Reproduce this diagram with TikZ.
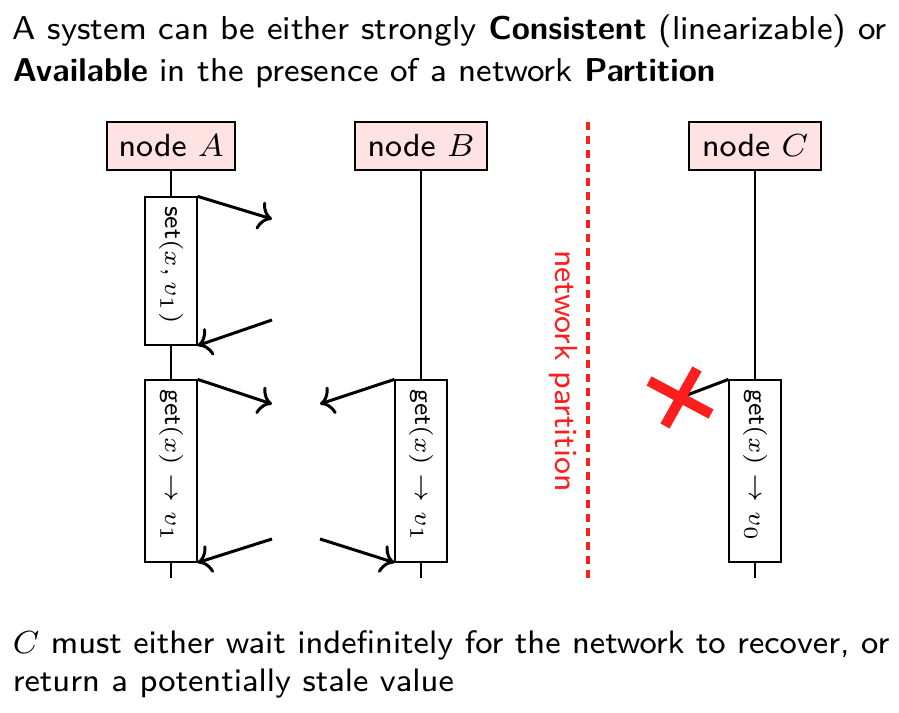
\documentclass[tikz,border=0pt]{standalone}
\usetikzlibrary{arrows.meta}
\definecolor{partred}{RGB}{255,30,30}
\definecolor{nodepink}{RGB}{255,226,226}
\begin{document}
\begin{tikzpicture}[x=0.25pt,y=-0.25pt,
  titletext/.style={anchor=base west,inner sep=0pt,font=\fontsize{8.25}{10}\selectfont\sffamily},
  bottomtext/.style={anchor=base west,inner sep=0pt,font=\fontsize{8.13}{10}\selectfont\sffamily},
  procbox/.style={draw,fill=nodepink,minimum height=12pt,inner sep=0pt,line width=0.3pt,font=\fontsize{8}{10}\selectfont\sffamily},
  opbox/.style={draw,fill=white,minimum width=13pt,inner sep=0pt,line width=0.3pt},
  oplabel/.style={rotate=-90,inner sep=0pt,font=\fontsize{6.5}{8}\selectfont\sffamily},
  lifeline/.style={line width=0.3pt},
  msg/.style={line width=0.75pt,-{To[length=3.3pt,width=7.2pt]}},
  crossline/.style={partred,line width=2.6pt},
]
\useasboundingbox (0,0) rectangle (899,713);
% title
\node[titletext] (t1) at (12,40) {A system can be either strongly \textbf{Consistent} (linearizable) or};
\node[titletext] (t2) at (12,82) {\textbf{Available} in the presence of a network \textbf{Partition}};
% process boxes
\node[procbox,minimum width=32pt] (nA) at (171,146) {node $A$};
\node[procbox,minimum width=33pt] (nB) at (421,146) {node $B$};
\node[procbox,minimum width=33pt] (nC) at (755,146) {node $C$};
% operation boxes
\node[opbox,minimum height=37pt] (setA) at (171,271) {};
\node[opbox,minimum height=45.5pt] (getA) at (171,471) {};
\node[opbox,minimum height=45.5pt] (getB) at (421,471) {};
\node[opbox,minimum height=45.5pt] (getC) at (755,471) {};
\node[oplabel] (setAl) at (171,265) {set$(x, v_1)$};
\node[oplabel] (getAl) at (171,466) {get$(x) \to v_1$};
\node[oplabel] (getBl) at (421,466) {get$(x) \to v_1$};
\node[oplabel] (getCl) at (755,466) {get$(x) \to v_0$};
% lifelines
\coordinate (endA) at (171,578);
\coordinate (endB) at (421,578);
\coordinate (endC) at (755,578);
\draw[lifeline] (nA.south) -- (setA.north);
\draw[lifeline] (setA.south) -- (getA.north);
\draw[lifeline] (getA.south) -- (endA);
\draw[lifeline] (nB.south) -- (getB.north);
\draw[lifeline] (getB.south) -- (endB);
\draw[lifeline] (nC.south) -- (getC.north);
\draw[lifeline] (getC.south) -- (endC);
% messages
\coordinate (m1) at (272,219);
\coordinate (m2) at (272,320);
\coordinate (m3) at (272,404);
\coordinate (m4) at (320,404);
\coordinate (m5) at (272,539);
\coordinate (m6) at (320,539);
\draw[msg] (setA.north east) -- (m1);
\draw[msg] (m2) -- (setA.south east);
\draw[msg] (getA.north east) -- (m3);
\draw[msg] (getB.north west) -- (m4);
\draw[msg] (m5) -- (getA.south east);
\draw[msg] (m6) -- (getB.south west);
% partition
\coordinate (pt) at (588,122);
\coordinate (pb) at (588,579);
\draw[partred,line width=0.85pt,dash pattern=on 2pt off 1.5pt] (pt) -- (pb);
\node[rotate=-90,text=partred,inner sep=0pt,font=\fontsize{8}{10}\selectfont\sffamily] (np) at (563,371) {network partition};
% failed request from C
\coordinate (xc) at (682,397);
\coordinate (xa1) at (649,381);
\coordinate (xa2) at (711,414);
\coordinate (xb1) at (697,369);
\coordinate (xb2) at (665,426);
\draw[line width=0.75pt] (getC.north west) -- (xc);
\draw[crossline] (xa1) -- (xa2);
\draw[crossline] (xb1) -- (xb2);
% bottom text
\node[bottomtext] (b1) at (12,654) {$C$ must either wait indefinitely for the network to recover, or};
\node[bottomtext] (b2) at (12,692) {return a potentially stale value};
\end{tikzpicture}
\end{document}
